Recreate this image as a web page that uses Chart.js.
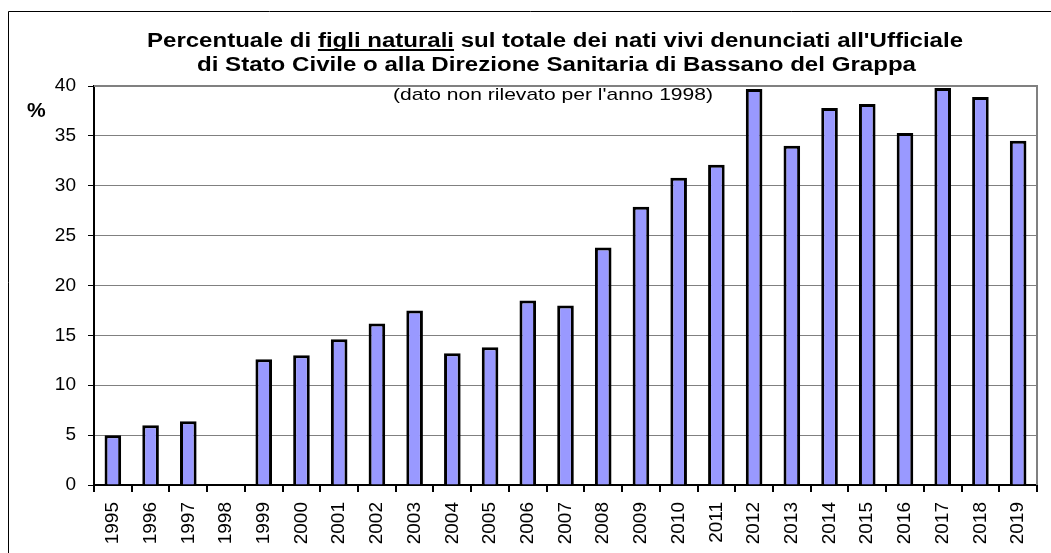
<!DOCTYPE html>
<html>
<head>
<meta charset="utf-8">
<script src="https://cdn.jsdelivr.net/npm/chart.js@4.4.1/dist/chart.umd.min.js"></script>
<style>
  html, body { margin: 0; padding: 0; background: #ffffff; }
  #wrap { position: relative; width: 1051px; height: 553px; }
</style>
</head>
<body>
<div id="wrap"><canvas id="c" width="1051" height="553"></canvas></div>
<script>
// ---- data ----
const years = ['1995','1996','1997','1998','1999','2000','2001','2002','2003','2004','2005','2006','2007',
               '2008','2009','2010','2011','2012','2013','2014','2015','2016','2017','2018','2019'];
const percentValues = [5.0, 6.0, 6.4, null, 12.6, 13.0, 14.6, 16.2, 17.5, 13.2, 13.8, 18.5, 18.0,
                       23.8, 27.9, 30.8, 32.1, 39.7, 34.0, 37.8, 38.2, 35.3, 39.8, 38.9, 34.5];
const yTickValues = [0, 5, 10, 15, 20, 25, 30, 35, 40];
const titleLine1Before = 'Percentuale di ';
const titleLine1Under = 'figli naturali';
const titleLine1After = ' sul totale dei nati vivi denunciati all\'Ufficiale';
const titleLine2 = 'di Stato Civile o alla Direzione Sanitaria di Bassano del Grappa';
const noteText = '(dato non rilevato per l\'anno 1998)';
const unitLabel = '%';

const FONT = '"Liberation Sans", Arial, sans-serif';
Chart.defaults.font.family = FONT;
Chart.defaults.color = '#000000';

function drawFitted(ctx, parts, cx, baseline, width, font) {
  ctx.save();
  ctx.font = font;
  ctx.fillStyle = '#000';
  ctx.textBaseline = 'alphabetic';
  ctx.textAlign = 'left';
  const full = parts.map(p => p.t).join('');
  const w = ctx.measureText(full).width;
  ctx.translate(cx, baseline);
  ctx.scale(width / w, 1);
  let x = -w / 2;
  for (const p of parts) {
    ctx.fillText(p.t, x, 0);
    const pw = ctx.measureText(p.t).width;
    if (p.u) ctx.fillRect(x, 2, pw, 2);
    x += pw;
  }
  ctx.restore();
}

const decorPlugin = {
  id: 'decor',
  afterDraw(chart) {
    const ctx = chart.ctx;
    const a = chart.chartArea;
    ctx.save();
    // outer frame
    ctx.strokeStyle = '#000';
    ctx.lineWidth = 1;
    ctx.beginPath();
    ctx.moveTo(8.5, 600);
    ctx.lineTo(8.5, 11.5);
    ctx.lineTo(1100, 11.5);
    ctx.stroke();
    // plot area right/top border
    ctx.strokeStyle = '#808080';
    ctx.lineWidth = 2;
    ctx.beginPath();
    ctx.moveTo(a.left, a.top);
    ctx.lineTo(a.right, a.top);
    ctx.lineTo(a.right, a.bottom);
    ctx.stroke();
    ctx.restore();

    drawFitted(ctx, [{t: titleLine1Before}, {t: titleLine1Under, u: true}, {t: titleLine1After}],
               555, 47, 816, 'bold 20px ' + FONT);
    drawFitted(ctx, [{t: titleLine2}], 556.5, 71, 719, 'bold 20px ' + FONT);
    drawFitted(ctx, [{t: noteText}], 553, 100, 320, '17px ' + FONT);

    ctx.save();
    ctx.font = 'bold 21px ' + FONT;
    ctx.fillStyle = '#000';
    ctx.textAlign = 'left';
    ctx.fillText(unitLabel, 27, 117);
    ctx.restore();
  }
};

new Chart(document.getElementById('c'), {
  type: 'bar',
  data: {
    labels: years,
    datasets: [{
      data: percentValues,
      backgroundColor: '#9999FF',
      borderColor: '#000000',
      borderWidth: 3,
      borderSkipped: 'bottom',
      barPercentage: 0.44,
      categoryPercentage: 1.0
    }]
  },
  options: {
    responsive: false,
    animation: false,
    devicePixelRatio: 1,
    layout: { padding: { top: 86, right: 3, left: 0, bottom: 0 } },
    plugins: {
      legend: { display: false },
      title: { display: false },
      tooltip: { enabled: false }
    },
    scales: {
      x: {
        offset: true,
        grid: {
          display: true,
          offset: true,
          drawOnChartArea: false,
          drawTicks: true,
          tickLength: 7,
          color: '#000',
          lineWidth: 2
        },
        border: { display: true, color: '#000', width: 2 },
        ticks: {
          autoSkip: false,
          maxRotation: 90,
          minRotation: 90,
          padding: 10,
          color: '#000',
          font: { size: 19, family: FONT }
        },
        afterFit(scale) { scale.height = 68; }
      },
      y: {
        min: 0,
        max: 40,
        afterBuildTicks(scale) { scale.ticks = yTickValues.map(v => ({ value: v })); },
        grid: {
          color: '#808080',
          lineWidth: 1,
          tickColor: '#000',
          tickLength: 6,
          drawTicks: true
        },
        border: { display: true, color: '#000', width: 2 },
        ticks: {
          padding: 12,
          color: '#000',
          font: { size: 19, family: FONT }
        },
        afterFit(scale) { scale.width = 94; }
      }
    }
  },
  plugins: [decorPlugin]
});
</script>
</body>
</html>
